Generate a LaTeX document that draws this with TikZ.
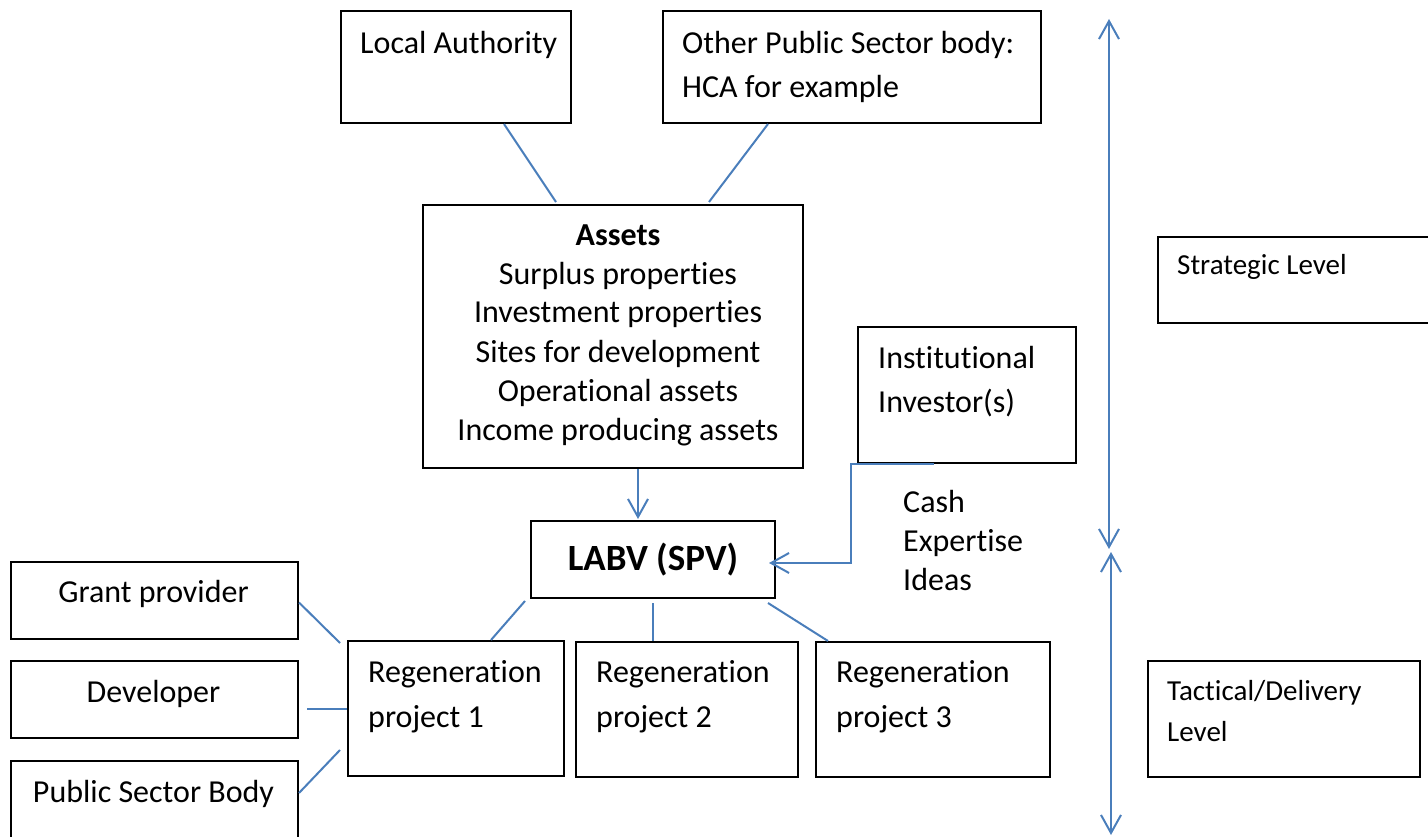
\documentclass[tikz,border=0pt]{standalone}
\usepackage{fontspec}
\setmainfont{Carlito}[Ligatures=NoCommon,RawFeature={-calt}]
\usetikzlibrary{arrows.meta,calc}
\definecolor{linkblue}{RGB}{74,126,187}
% break the t-i ligature of the font
\newcommand{\tibreak}{t\kern0pt i}
\begin{document}
\begin{tikzpicture}[x=1pt,y=-1pt,
  box/.style={draw=black,line width=2pt,anchor=north west,inner sep=0pt},
  txt/.style={inner sep=0pt,font=\fontsize{32}{39}\selectfont,anchor=base west},
  txtc/.style={txt,anchor=base},
  small/.style={inner sep=0pt,font=\fontsize{29}{35}\selectfont,anchor=base west},
  link/.style={draw=linkblue,line width=2pt},
  barb/.tip={Straight Barb[length=18pt,width=20pt,line width=2pt]},
  ]
\useasboundingbox (0,0) rectangle (1428,837);

% boxes
\node[box,minimum width=230pt,minimum height=112pt] (la) at (340,10) {};
\node[box,minimum width=378pt,minimum height=112pt] (ops) at (662,10) {};
\node[box,minimum width=380pt,minimum height=263pt] (assets) at (422,204) {};
\node[box,minimum width=218pt,minimum height=136pt] (inst) at (857,326) {};
\node[box,minimum width=244pt,minimum height=77pt,
      font=\fontsize{37}{44}\selectfont\bfseries] (labv) at (530,520) {LABV (SPV)};
\node[box,minimum width=287pt,minimum height=77pt] (grant) at (10,561) {};
\node[box,minimum width=287pt,minimum height=77pt] (dev) at (10,660) {};
\node[box,minimum width=287pt,minimum height=90pt] (psb) at (10,760) {};
\node[box,minimum width=216pt,minimum height=135pt] (p1) at (347,640) {};
\node[box,minimum width=222pt,minimum height=135pt] (p2) at (575,641) {};
\node[box,minimum width=234pt,minimum height=135pt] (p3) at (815,641) {};
\node[box,minimum width=283pt,minimum height=86pt] (strat) at (1157,236) {};
\node[box,minimum width=272pt,minimum height=116pt] (tact) at (1147,660) {};

% texts
\node[txt] (laT) at (360,54) {Local Authority};
\node[txt] (opsT1) at (682,54) {Other Public Sector body:};
\node[txt] (opsT2) at (682,98) {HCA for example};
\node[txtc,font=\fontsize{32}{39}\selectfont\bfseries] (asT0) at (618,246) {Assets};
\node[txtc] (asT1) at (618,284) {Surplus proper\tibreak es};
\node[txtc] (asT2) at (618,323) {Investment proper\tibreak es};
\node[txtc] (asT3) at (618,362) {Sites for development};
\node[txtc] (asT4) at (618,401) {Opera\tibreak onal assets};
\node[txtc] (asT5) at (618,440) {Income producing assets};
\node[txt] (inT1) at (878,368) {Ins\tibreak tu\tibreak onal};
\node[txt] (inT2) at (878,412) {Investor(s)};
\node[txt] (cash) at (903,512) {Cash};
\node[txt] (expert) at (903,551) {Expertise};
\node[txt] (ideas) at (903,590) {Ideas};
\node[txtc] (grT) at (153.5,602) {Grant provider};
\node[txtc] (devT) at (153.5,702) {Developer};
\node[txtc] (psbT) at (153.5,802) {Public Sector Body};
\node[txt] (p1a) at (368,682) {Regenera\tibreak on};
\node[txt] (p1b) at (368,727) {project 1};
\node[txt] (p2a) at (596,682) {Regenera\tibreak on};
\node[txt] (p2b) at (596,727) {project 2};
\node[txt] (p3a) at (836,682) {Regenera\tibreak on};
\node[txt] (p3b) at (836,727) {project 3};
\node[small] (stT) at (1177,275) {Strategic Level};
\node[small] (tcT1) at (1167,700) {Tac\tibreak cal/Delivery};
\node[small] (tcT2) at (1167,741) {Level};

% connectors
\draw[link] ([xshift=48pt]la.south) -- ([xshift=-57pt,yshift=2pt]assets.north);
\draw[link] ([xshift=-84pt]ops.south) -- ([xshift=96pt,yshift=2pt]assets.north);
\draw[link,-barb] ([xshift=25pt]assets.south) -- ([xshift=-15pt,yshift=1pt]labv.north);
\draw[link,-barb] ([xshift=-33pt]inst.south) -- ++(-83,0)
  |- ([xshift=-7pt,yshift=-3.5pt]labv.east);
\draw[link] ([xshift=-5pt,yshift=-2pt]labv.south west) -- ([xshift=35pt]p1.north);
\draw[link] ([yshift=-4pt]labv.south) -- ([xshift=-34pt]p2.north);
\draw[link] ([xshift=-8pt,yshift=-4pt]labv.south east) -- ([xshift=13pt]p3.north west);
\draw[link] ([yshift=-2pt]grant.east) -- ([xshift=-7pt,yshift=-3pt]p1.north west);
\draw[link] ([xshift=8pt]dev.east |- p1.west) -- (p1.west);
\draw[link] ([yshift=-33pt]psb.north east) -- ([xshift=-7pt,yshift=27pt]p1.south west);

% level arrows
\coordinate (upA) at (1109,19);
\coordinate (upB) at (1109,549);
\coordinate (loA) at (1111,552);
\coordinate (loB) at (1111,835);
\draw[link,barb-barb] (upA) -- (upB);
\draw[link,barb-barb] (loA) -- (loB);
\end{tikzpicture}
\end{document}
